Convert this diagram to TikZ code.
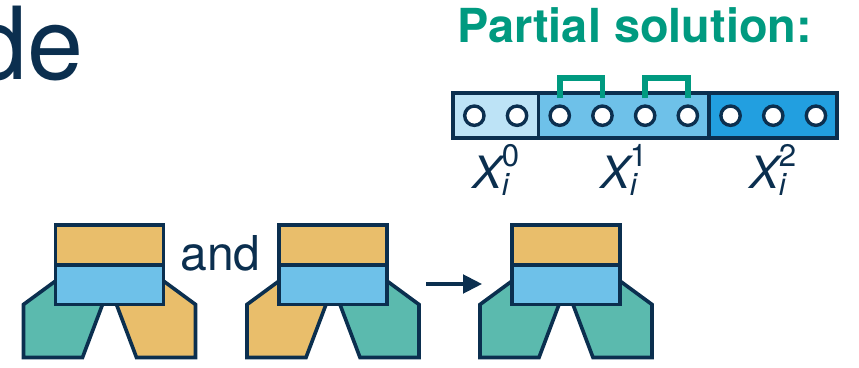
\documentclass[tikz,border=0pt]{standalone}
\usepackage{amsmath}
\usepackage{fontspec}
\setmainfont{TeX Gyre Heros}
\usetikzlibrary{arrows.meta}
\definecolor{navy}{HTML}{0B2F4F}
\definecolor{teal}{HTML}{009A80}
\definecolor{leg}{HTML}{5BBAAE}
\definecolor{clamp}{HTML}{E9BE6B}
\definecolor{sky}{HTML}{6EC1E9}
\definecolor{pale}{HTML}{BDE3F6}
\definecolor{deep}{HTML}{229FE0}

\newcommand{\xvar}[1]{$\textit{X}_{\textit{i}}^{\textup{#1}}$}

\begin{document}
\begin{tikzpicture}[
  x=0.03cm, y=-0.03cm,
  part/.style={draw=navy, line width=3.1pt, line join=miter},
  block/.style={part, rectangle, minimum width=3.24cm, inner sep=0pt, outer sep=0pt},
  hole/.style={circle, draw=navy, fill=white, line width=2.9pt,
    minimum size=0.58cm, inner sep=0pt},
  link/.style={draw=teal, line width=5pt},
  varlabel/.style={anchor=base, text=navy, font=\fontsize{38}{38}\selectfont},
  arrow/.style={-{Triangle[length=5.7mm,width=5.6mm]}, line width=2.6pt, navy},
]
  \useasboundingbox (0,0) rectangle (859,368);

  \node[anchor=base east, text=navy, font=\fontsize{86}{86}\selectfont,
    inner sep=0pt] (title) at (84,80) {de};
  \node[anchor=base, text=teal, font=\fontsize{40}{40}\selectfont\bfseries,
    inner sep=0pt] (partial) at (634.5,43) {Partial solution:};

  % the three segments of the solution vector
  \draw[part, fill=pale] (453,93) rectangle (538.4,138);
  \draw[part, fill=sky]  (538.4,93) rectangle (709.2,138);
  \draw[part, fill=deep] (709.2,93) rectangle (837.3,138);
  \foreach \k in {1,...,9}
    \node[hole] (c\k) at (453+42.7*\k-21.35,115.7) {};

  \draw[link] (c3 |- 0,98.5) |- (c4 |- 0,78) -- (c4 |- 0,98.5);
  \draw[link] (c5 |- 0,98.5) |- (c6 |- 0,78) -- (c6 |- 0,98.5);

  \node[varlabel] (x0) at (496,188) {\xvar{0}};
  \node[varlabel] (x1) at (624,188) {\xvar{1}};
  \node[varlabel] (x2) at (773,188) {\xvar{2}};

  % grippers: two legs behind a two-layer block
  \foreach \cx/\lcol/\rcol/\nm in {109.5/leg/clamp/gA, 333/clamp/leg/gB, 566/leg/leg/gC} {
    \begin{scope}[shift={(\cx,0)}]
      \draw[part, fill=\lcol] (-54,281) -- (-86,304.5) -- (-86,357.5)
        -- (-27,357.5) -- (-7,304.5) -- (-7,281) -- cycle;
      \draw[part, fill=\rcol] (54,281) -- (86,304.5) -- (86,357.5)
        -- (27,357.5) -- (7,304.5) -- (7,281) -- cycle;
      \node[block, fill=clamp, minimum height=1.2cm, anchor=south] (\nm-top) at (0,265) {};
      \node[block, fill=sky, minimum height=1.185cm, anchor=north] (\nm-base) at (0,265) {};
    \end{scope}
  }

  \node[anchor=base, text=navy, font=\fontsize{41}{41}\selectfont,
    inner sep=0pt] (and) at (220.5,270) {and};

  \coordinate (tail) at (426,284);
  \coordinate (tip) at (482,284);
  \draw[arrow] (tail) -- (tip);
\end{tikzpicture}
\end{document}
